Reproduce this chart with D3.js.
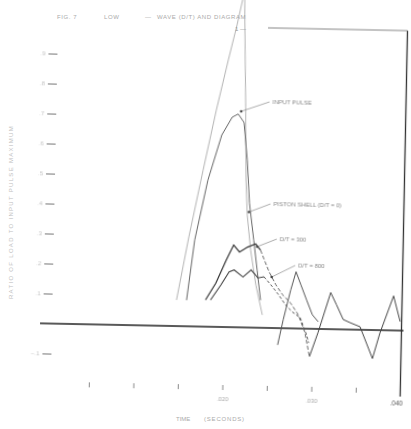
<!DOCTYPE html>
<meta charset="utf-8">
<style>
  body { margin: 0; background: #fff; }
  text { font-family: "Liberation Sans", Arial, sans-serif; fill: #999; }
</style>
<body>
<script src="https://cdn.jsdelivr.net/npm/d3@7"></script>
<script>

// values: [time (s), normalized value]
var pistonShell = [[0.01466,0.087],[0.0159,0.297],[0.01736,0.522],[0.01871,0.723],[0.01994,0.89],
  [0.02084,1.007],[0.0214,1.09],[0.0216,1.15],[0.02174,0.99],[0.022,0.734],[0.0222,0.49],
  [0.02242,0.374],[0.02287,0.259],[0.02354,0.142],[0.02433,0.043]];
var inputPulse = [[0.01579,0.087],[0.01657,0.288],[0.01792,0.489],[0.01938,0.64],[0.02051,0.70],
  [0.02118,0.711],[0.02185,0.683],[0.0223,0.557],[0.02264,0.415],[0.0232,0.292],[0.02365,0.192],
  [0.0241,0.092]];
var dt300 = [[0.01792,0.089],[0.01904,0.146],[0.02017,0.224],[0.02096,0.274],[0.02163,0.251],
  [0.02253,0.268],[0.02343,0.279],[0.02399,0.259]];
var dt300tail = [[0.02399,0.259],[0.02444,0.226],[0.025,0.187],[0.02579,0.144],[0.02657,0.111],
  [0.02747,0.085],[0.02837,0.046],[0.02916,-0.014],[0.02972,-0.093]];
var dt300osc = [[0.02972,-0.093],[0.03062,-0.013],[0.03197,0.122],[0.03264,0.082],[0.03343,0.033],
  [0.03421,0.023],[0.03534,0.01],[0.0368,-0.095],[0.03758,-0.01],[0.03904,0.115],[0.03983,0.03]];
var dt800 = [[0.01848,0.089],[0.01961,0.14],[0.02051,0.184],[0.02107,0.191],[0.02208,0.168],
  [0.02298,0.192],[0.02376,0.166],[0.02444,0.17]];
var dt800tail = [[0.02444,0.17],[0.02522,0.144],[0.02612,0.111],[0.02691,0.078],[0.0277,0.055],
  [0.0286,0.036],[0.02927,-0.014],[0.02961,-0.047]];
var ringing = [[0.02612,-0.056],[0.02669,0.028],[0.02747,0.128],[0.02803,0.189],[0.0286,0.146],
  [0.02927,0.096],[0.02995,0.047],[0.03062,0.024]];

var yTicks = [-0.1, 0.1, 0.2, 0.3, 0.4, 0.5, 0.6, 0.7, 0.8, 0.9];
var xTicks = [0.005, 0.010, 0.015, 0.020, 0.025, 0.030, 0.035];
var xLabels = [0.020, 0.030];

var svg = d3.select("body").append("svg")
    .attr("width", 411)
    .attr("height", 429);

// soft edges like the photocopy
svg.append("defs").append("filter")
    .attr("id", "soft")
  .append("feGaussianBlur")
    .attr("stdDeviation", 0.35);

// the scan is turned a little clockwise
var g = svg.append("g")
    .attr("transform", "rotate(1.15,222,327)")
    .attr("filter", "url(#soft)");

var x = d3.scaleLinear().domain([0, 0.040]).range([45.5, 401.5]);
var y = d3.scaleLinear().domain([0, 1]).range([327, 27]);

var line = d3.line()
    .x(function(d) { return x(d[0]); })
    .y(function(d) { return y(d[1]); });

// frame pieces that survived the copy
g.append("line")
    .attr("x1", 40).attr("x2", x(0.040) + 2)
    .attr("y1", y(0)).attr("y2", y(0))
    .attr("stroke", "#222").attr("stroke-width", 1.5);
g.append("line")
    .attr("x1", x(0.040)).attr("x2", x(0.040))
    .attr("y1", y(1)).attr("y2", 393)
    .attr("stroke", "#333").attr("stroke-width", 1.3);
g.append("line")
    .attr("x1", 262).attr("x2", x(0.040))
    .attr("y1", y(1)).attr("y2", y(1))
    .attr("stroke", "#888").attr("stroke-width", 1);

// y ticks
var yAxis = g.append("g")
    .attr("transform", "translate(52,0)")
    .call(d3.axisLeft(y).tickValues(yTicks).tickSize(9).tickPadding(3)
      .tickFormat(function(d) { return d3.format(".1f")(d).replace("0.", "."); }));
yAxis.select(".domain").remove();
yAxis.selectAll("text").style("font-size", "6px").style("fill", "#c4c4c4");
yAxis.selectAll("line").attr("stroke", "#777");

// x ticks
var xAxis = g.append("g")
    .attr("transform", "translate(0,385)")
    .call(d3.axisBottom(x).tickValues(xTicks).tickSize(5).tickPadding(7)
      .tickFormat(function(d) { return xLabels.indexOf(d) >= 0 ? d3.format(".3f")(d).replace("0.", ".") : ""; }));
xAxis.select(".domain").remove();
xAxis.selectAll("text").style("font-size", "6px").style("fill", "#aaa");
xAxis.selectAll("line").attr("stroke", "#888");

g.append("text")
    .attr("x", x(0.040) - 10).attr("y", 402)
    .style("font-size", "6.5px").style("fill", "#555")
    .text(".040");

// curves
function curve(data, color, w, dash) {
  g.append("path")
      .datum(data)
      .attr("fill", "none")
      .attr("stroke", color)
      .attr("stroke-width", w)
      .attr("stroke-dasharray", dash || null)
      .attr("d", line);
}
curve(pistonShell, "#aaa", 0.9);
curve(inputPulse, "#666", 1);
curve(dt300, "#333", 1.2);
curve(dt300tail, "#666", 1, "4,2");
curve(dt300osc, "#444", 1);
curve(dt800, "#444", 1.1);
curve(dt800tail, "#555", 1, "3,2");
curve(ringing, "#555", 1);

// labels with leaders
var notes = [
  {t: 0.0215, v: 0.72, lx: 265, ly: 101, text: "INPUT PULSE"},
  {t: 0.0226, v: 0.385, lx: 268, ly: 203, text: "PISTON SHELL  (D/T = 0)"},
  {t: 0.0236, v: 0.27, lx: 275, ly: 238, text: "D/T = 300"},
  {t: 0.0253, v: 0.17, lx: 294, ly: 264, text: "D/T = 800"}
];
notes.forEach(function(n) {
  g.append("line")
      .attr("x1", x(n.t)).attr("y1", y(n.v))
      .attr("x2", n.lx).attr("y2", n.ly)
      .attr("stroke", "#888").attr("stroke-width", 0.7);
  g.append("circle")
      .attr("cx", x(n.t)).attr("cy", y(n.v)).attr("r", 1.3)
      .attr("fill", "#444");
  g.append("text")
      .attr("x", n.lx + 3).attr("y", n.ly + 2)
      .style("font-size", "6px").style("fill", "#888")
      .text(n.text);
});

// titles, spaced out like the faded original
var titleBits = [[57, "FIG. 7"], [104, "LOW"], [145, "\u2014"], [157, "WAVE (D/T) AND DIAGRAM"]];
titleBits.forEach(function(b) {
  svg.append("text")
      .attr("x", b[0]).attr("y", 19)
      .style("font-size", "6px").style("fill", "#aaa")
      .style("letter-spacing", "0.6px")
      .text(b[1]);
});
svg.append("text")
    .attr("x", 235).attr("y", 31)
    .style("font-size", "6px").style("fill", "#999")
    .text("1  \u2014");
svg.append("text")
    .attr("transform", "translate(13,212) rotate(-90)")
    .attr("text-anchor", "middle")
    .style("font-size", "6px").style("fill", "#c0c0c0")
    .style("letter-spacing", "1.3px")
    .text("RATIO OF LOAD TO INPUT PULSE MAXIMUM");
svg.append("text")
    .attr("x", 176).attr("y", 421)
    .style("font-size", "6px").style("fill", "#aaa")
    .text("TIME");
svg.append("text")
    .attr("x", 204).attr("y", 421)
    .style("font-size", "6px").style("fill", "#aaa")
    .style("letter-spacing", "0.8px")
    .text("(SECONDS)");

</script>
</body>
